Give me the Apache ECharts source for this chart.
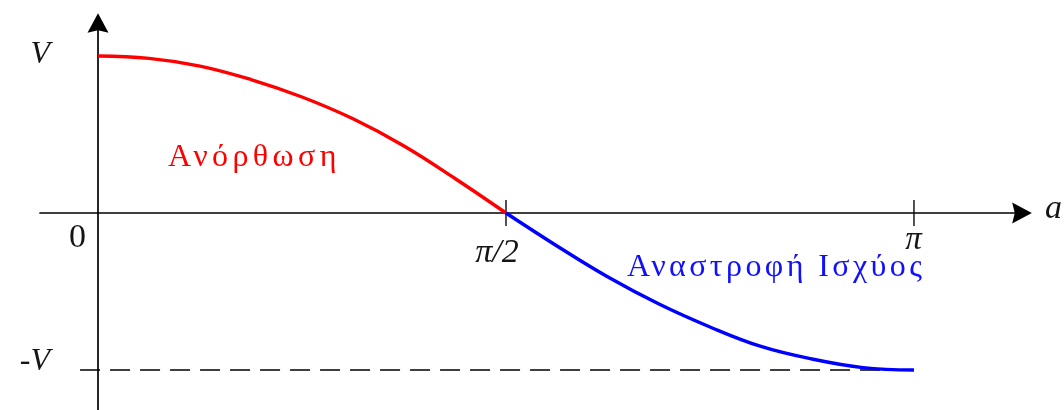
<!DOCTYPE html>
<html>
<head>
<meta charset="utf-8">
<script src="https://cdn.jsdelivr.net/npm/echarts@6/dist/echarts.min.js"></script>
<style>
  html, body { margin: 0; padding: 0; background: #ffffff; }
  #chart { width: 1064px; height: 410px; }
</style>
</head>
<body>
<div id="chart"></div>
<script>
// Firing angle a in units of π, mean output voltage in units of V
const rectifierAngle   = [0, 0.0625, 0.125, 0.1875, 0.25, 0.3125, 0.375, 0.4375, 0.5];
const rectifierVoltage = [1.0, 0.985, 0.936, 0.85, 0.739, 0.60, 0.427, 0.22, 0];
const inverterAngle    = [0.5, 0.5625, 0.625, 0.6875, 0.75, 0.8125, 0.875, 0.9375, 1.0];
const inverterVoltage  = [0, -0.21, -0.408, -0.58, -0.726, -0.85, -0.930, -0.985, -1.0];

const xTickValues = [0.5, 1];
const xTickLabels = ['π/2', 'π'];
const yTickValues = [1, -1];
const yTickLabels = ['V', '-V'];
const originLabel = '0';
const xAxisName = 'a';
const regionLabels = ['Ανόρθωση', 'Αναστροφή Ισχύος'];

// -V reference level, drawn from just left of the vertical axis up to a = π
const limitAngle   = [-0.022, 1];
const limitVoltage = [-1, -1];

const zip = (xs, ys) => xs.map((x, i) => [x, ys[i]]);

// The region captions are set with slightly open letter spacing
const captionSpacing = {};
captionSpacing[regionLabels[0]] = '4.4px';
captionSpacing[regionLabels[1]] = '3.4px';
const baseFillText = CanvasRenderingContext2D.prototype.fillText;
CanvasRenderingContext2D.prototype.fillText = function (text) {
  const s = captionSpacing[text];
  if (s && 'letterSpacing' in this) {
    const prev = this.letterSpacing;
    this.letterSpacing = s;
    const r = baseFillText.apply(this, arguments);
    this.letterSpacing = prev;
    return r;
  }
  return baseFillText.apply(this, arguments);
};

const chart = echarts.init(document.getElementById('chart'), null, { renderer: 'canvas' });

const arrowPath = 'path://M8,0L16,15L8,13L0,15Z';
const axisCommon = {
  type: 'value',
  axisLine: {
    show: true,
    onZero: true,
    symbol: ['none', arrowPath],
    symbolSize: [21, 20],
    lineStyle: { color: '#000', width: 1.7 }
  },
  axisTick: { show: false },
  axisLabel: { show: false },
  splitLine: { show: false }
};

chart.setOption({
  animation: false,
  backgroundColor: '#ffffff',
  grid: { left: 40, right: 42, top: 23, bottom: 0, outerBoundsMode: 'none' },
  xAxis: Object.assign({}, axisCommon, { min: -0.0711, max: 1.1324 }),
  yAxis: Object.assign({}, axisCommon, { min: -1.2548, max: 1.2102 }),
  series: [
    {
      type: 'line',
      data: zip(limitAngle, limitVoltage),
      symbol: 'none',
      lineStyle: { color: '#000', width: 1.5, type: [20, 10] },
      z: 3
    },
    {
      type: 'scatter',
      data: xTickValues.map(v => [v, 0]),
      symbol: 'rect',
      symbolSize: [1.7, 26],
      itemStyle: { color: '#000' },
      z: 3
    },
    {
      type: 'line',
      data: zip(rectifierAngle, rectifierVoltage),
      smooth: 0.4,
      symbol: 'none',
      lineStyle: { color: '#ff0000', width: 3.4 },
      z: 4
    },
    {
      type: 'line',
      data: zip(inverterAngle, inverterVoltage),
      smooth: 0.4,
      symbol: 'none',
      lineStyle: { color: '#0000ff', width: 3.4 },
      z: 4
    }
  ]
});

// Text annotations anchored to data positions
const px = (x, y) => chart.convertToPixel({ gridIndex: 0 }, [x, y]);
const serif = "'Liberation Serif', 'Times New Roman', serif";
function label(text, at, dx, dy, opts) {
  const p = px(at[0], at[1]);
  return {
    type: 'text',
    x: p[0] + dx,
    y: p[1] + dy,
    z: 10,
    style: Object.assign({
      text: text,
      fill: '#151515',
      font: 'italic 32px ' + serif,
      align: 'center',
      verticalAlign: 'middle'
    }, opts || {})
  };
}

chart.setOption({
  graphic: [
    label(yTickLabels[0], [0, yTickValues[0]], -48, -1.5, { align: 'right' }),
    label(yTickLabels[1], [0, yTickValues[1]], -48, -8.5, { align: 'right' }),
    label(originLabel, [0, 0], -20.5, 25.5, { font: '34px ' + serif }),
    label(xTickLabels[0], [xTickValues[0], 0], -9, 40, { font: 'italic 34px ' + serif }),
    label(xTickLabels[1], [xTickValues[1], 0], -0.5, 27, { font: 'italic 33px ' + serif }),
    label(xAxisName, [0, 0], 947, -4, { align: 'left', font: 'italic 34px ' + serif }),
    label(regionLabels[0], [0, 0], 70, -55, { align: 'left', fill: '#ff0000', font: '32px ' + serif }),
    label(regionLabels[1], [0, 0], 529, 55, { align: 'left', fill: '#1010ff', font: '32px ' + serif })
  ]
});
</script>
</body>
</html>
